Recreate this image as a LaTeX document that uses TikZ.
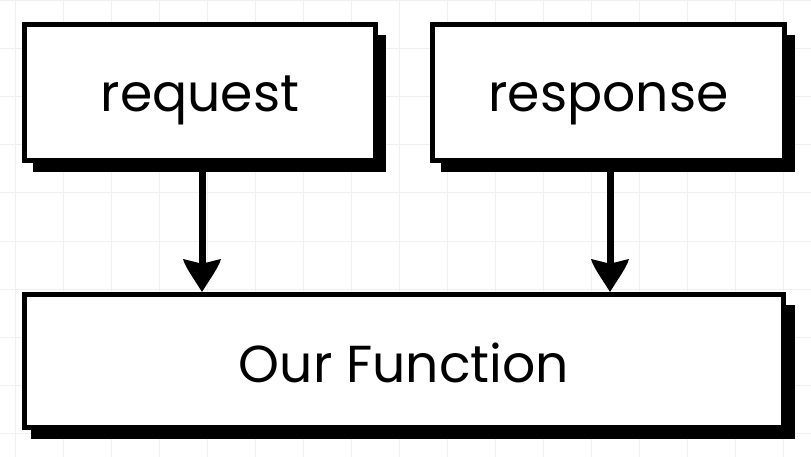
\documentclass[tikz,border=0pt]{standalone}
\usepackage{fontspec}
\setmainfont{Poppins}
\usetikzlibrary{shadows}
\begin{document}
\begin{tikzpicture}[x=1pt,y=-1pt,
  gridline/.style={draw=black!6,line width=1pt},
  box/.style={draw=black,line width=5pt,fill=white,inner sep=0pt,
    drop shadow={shadow xshift=9pt,shadow yshift=-11pt,shadow scale=1.006,opacity=1,fill=black}},
  lbl/.style={font=\fontsize{52}{60}\selectfont,anchor=base,inner sep=0pt},
  conn/.style={line width=7pt,draw=black}]
\useasboundingbox (0,0) rectangle (811,457);
\fill[white] (0,0) rectangle (811,457);
\foreach \x in {15,63,...,811} \draw[gridline] (\x,0) -- (\x,457);
\foreach \y in {1,49,...,457} \draw[gridline] (0,\y) -- (811,\y);
\node[box,minimum width=351pt,minimum height=136pt] (req) at (200,92.5) {};
\node[box,minimum width=352pt,minimum height=136pt] (res) at (608.5,92.5) {};
\node[box,minimum width=759pt,minimum height=133pt] (fun) at (404,361) {};
\node[lbl] (reqt) at ([yshift=-19.5pt]req.center) {request};
\node[lbl] (rest) at ([yshift=-19.5pt]res.center) {response};
\node[lbl] (funt) at ([yshift=-21pt]fun.center) {Our Function};
\path ([xshift=2pt]req.south |- fun.north) coordinate (a1);
\path ([xshift=1.5pt]res.south |- fun.north) coordinate (a2);
\draw[conn] ([xshift=2pt]req.south) -- ([yshift=26pt]a1);
\draw[conn] ([xshift=1.5pt]res.south) -- ([yshift=26pt]a2);
\foreach \t in {a1,a2}{
  \fill (\t) .. controls ++(-6,-10) and ++(2,8) .. ++(-19,-33)
    .. controls ++(8,2) and ++(-6,-2) .. ++(19,5)
    .. controls ++(6,-2) and ++(-8,2) .. ++(19,-5)
    .. controls ++(-2,8) and ++(6,-10) .. (\t) -- cycle;
}
\end{tikzpicture}
\end{document}
